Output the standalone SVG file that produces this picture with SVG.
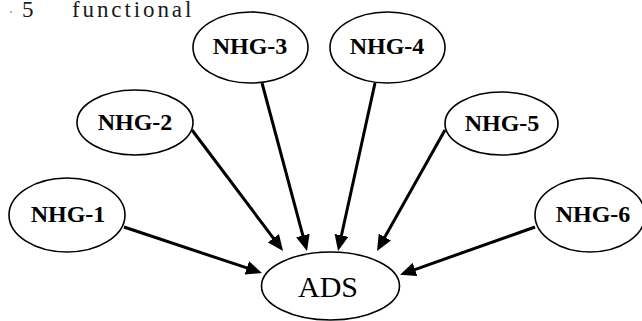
<svg xmlns="http://www.w3.org/2000/svg" width="642" height="321" viewBox="0 0 642 321">
<style>
.node ellipse{fill:#fff;stroke:#000;stroke-width:1.6}
.lbl{font-family:"Liberation Serif","Times New Roman",serif;font-weight:bold;font-size:24px;text-anchor:middle;fill:#000}
.ads{font-family:"Liberation Serif","Times New Roman",serif;font-size:30px;text-anchor:middle;fill:#000}
.top{font-family:"Liberation Serif","Times New Roman",serif;font-size:23px;fill:#1a1a1a}
#edges line{stroke:#000;stroke-width:3;marker-end:url(#ah)}
</style>
<defs>
<marker id="ah" markerUnits="userSpaceOnUse" markerWidth="16" markerHeight="14" viewBox="0 0 16 14" refX="4" refY="7" orient="auto">
<path d="M0,0 L16,7 L0,14 z" fill="#000"/>
</marker>
</defs>
<g id="caption">
<circle cx="11" cy="12" r="0.8" fill="#555"/>
<text class="top" x="22" y="16.5">5</text>
<text class="top" x="72" y="16.5" letter-spacing="2.9">functional</text>
</g>
<g id="edges">
<line x1="124" y1="227" x2="250.6" y2="269.2"/>
<line x1="192" y1="130" x2="275.8" y2="241.4"/>
<line x1="262" y1="83" x2="303.9" y2="239.4"/>
<line x1="375" y1="83" x2="340.6" y2="239.3"/>
<line x1="445" y1="130" x2="382.9" y2="240.5"/>
<line x1="535" y1="227" x2="411.3" y2="270.8"/>
</g>
<g id="nhg1" class="node"><ellipse cx="67" cy="215" rx="58" ry="37"/><text class="lbl" x="68" y="222">NHG-1</text></g>
<g id="nhg2" class="node"><ellipse cx="135" cy="122.5" rx="58" ry="32.5"/><text class="lbl" x="135" y="130">NHG-2</text></g>
<g id="nhg3" class="node"><ellipse cx="250.5" cy="47.5" rx="57.5" ry="35.5"/><text class="lbl" x="250" y="54">NHG-3</text></g>
<g id="nhg4" class="node"><ellipse cx="387.5" cy="47.5" rx="57.5" ry="35.5"/><text class="lbl" x="387" y="54">NHG-4</text></g>
<g id="nhg5" class="node"><ellipse cx="501.5" cy="123.5" rx="56.5" ry="31.5"/><text class="lbl" x="502" y="131">NHG-5</text></g>
<g id="nhg6" class="node"><ellipse cx="590" cy="215" rx="55" ry="37"/><text class="lbl" x="593" y="222">NHG-6</text></g>
<g id="ads" class="node"><ellipse cx="330.5" cy="286" rx="69" ry="34"/><text class="ads" x="328" y="297">ADS</text></g>
</svg>
